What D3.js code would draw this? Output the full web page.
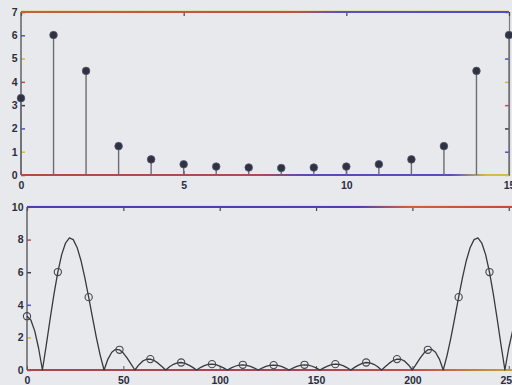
<!DOCTYPE html>
<html>
<head>
<meta charset="utf-8">
<script src="https://cdn.jsdelivr.net/npm/d3@7"></script>
<style>
  body { margin: 0; background: #e7e9ed; }
  svg { display: block; }
  text { font-family: Arial, "Liberation Sans", sans-serif; }
</style>
</head>
<body>
<div id="chart"></div>
<script>
// top panel: 16-point DFT magnitude (stems)
const stemIndex = [0, 1, 2, 3, 4, 5, 6, 7, 8, 9, 10, 11, 12, 13, 14, 15];
const stemValues = [3.30, 6.01, 4.47, 1.24, 0.67, 0.46, 0.36, 0.32, 0.30, 0.32, 0.36, 0.46, 0.67, 1.24, 4.47, 6.01];
const stemXTicks = [0, 5, 10, 15];
const stemYTicks = [0, 1, 2, 3, 4, 5, 6, 7];

// bottom panel: dense spectrum + the same samples as open circles
const curveFreq = [
  0, 2, 4, 6, 8, 10, 12, 14, 16, 18, 20, 22, 24, 26, 28, 30,
  32, 34, 36, 38, 40, 42, 44, 46, 48, 50, 52, 54, 56, 58, 60, 62,
  64, 66, 68, 70, 72, 74, 76, 78, 80, 82, 84, 86, 88, 90, 92, 94,
  96, 98, 100, 102, 104, 106, 108, 110, 112, 114, 116, 118, 120, 122, 124, 126,
  128, 130, 132, 134, 136, 138, 140, 142, 144, 146, 148, 150, 152, 154, 156, 158,
  160, 162, 164, 166, 168, 170, 172, 174, 176, 178, 180, 182, 184, 186, 188, 190,
  192, 194, 196, 198, 200, 202, 204, 206, 208, 210, 212, 214, 216, 218, 220, 222,
  224, 226, 228, 230, 232, 234, 236, 238, 240, 242, 244, 246, 248, 250, 252, 254,
  256
];
const curveValues = [
  3.30, 3.07, 2.40, 1.35, 0, 1.53, 3.13, 4.66, 6.01, 7.08, 7.79, 8.10, 8.00, 7.52, 6.72, 5.67,
  4.47, 3.21, 1.99, 0.90, 0, 0.67, 1.09, 1.27, 1.24, 1.04, 0.73, 0.36, 0, 0.31, 0.54, 0.66,
  0.67, 0.58, 0.42, 0.22, 0, 0.20, 0.35, 0.44, 0.46, 0.41, 0.30, 0.16, 0, 0.15, 0.27, 0.34,
  0.36, 0.33, 0.24, 0.13, 0, 0.13, 0.23, 0.30, 0.32, 0.29, 0.22, 0.12, 0, 0.12, 0.22, 0.28,
  0.30, 0.28, 0.22, 0.12, 0, 0.12, 0.22, 0.29, 0.32, 0.30, 0.23, 0.13, 0, 0.13, 0.24, 0.33,
  0.36, 0.34, 0.27, 0.15, 0, 0.16, 0.30, 0.41, 0.46, 0.44, 0.35, 0.20, 0, 0.22, 0.42, 0.58,
  0.67, 0.66, 0.54, 0.31, 0, 0.36, 0.73, 1.04, 1.24, 1.27, 1.09, 0.67, 0, 0.90, 1.99, 3.21,
  4.47, 5.67, 6.72, 7.52, 8.00, 8.10, 7.79, 7.08, 6.01, 4.66, 3.13, 1.53, 0, 1.35, 2.40, 3.07,
  3.30
];
const markerFreq = [0, 16, 32, 48, 64, 80, 96, 112, 128, 144, 160, 176, 192, 208, 224, 240];
const curveXTicks = [0, 50, 100, 150, 200, 250];
const curveYTicks = [0, 2, 4, 6, 8, 10];

// scanner colour fringing on the tick marks
const tickColors = ["#3c3c48", "#c84b4b", "#d9b83a", "#4a55c8"];

const width = 512, height = 385;

const svg = d3.select("#chart").append("svg")
  .attr("width", width)
  .attr("height", height);

const defs = svg.append("defs");

function gradient(id, stops) {
  const g = defs.append("linearGradient")
    .attr("id", id)
    .attr("gradientUnits", "userSpaceOnUse")
    .attr("x1", 0).attr("x2", width).attr("y1", 0).attr("y2", 0);
  stops.forEach(s => g.append("stop").attr("offset", s[0]).attr("stop-color", s[1]));
}

gradient("top1", [[0, "#c8603c"], [0.58, "#c24f4f"], [0.66, "#5e4fc2"], [1, "#4f4ad0"]]);
gradient("bot1", [[0, "#b44a3e"], [0.5, "#b04a55"], [0.6, "#5a48b8"], [0.88, "#5a4cc0"], [0.95, "#d6bc40"], [1, "#d6bc40"]]);
gradient("top2", [[0, "#4b3fb8"], [0.7, "#4e40b4"], [0.8, "#d06040"], [1, "#cc4444"]]);
gradient("bot2", [[0, "#a84848"], [0.6, "#a04858"], [0.8, "#c05040"], [1, "#c89a40"]]);

function panel(opts) {
  const { left, right, top, bottom, xDomain, yDomain, xTicks, yTicks, topGrad, botGrad } = opts;
  const x = d3.scaleLinear().domain(xDomain).range([left, right]);
  const y = d3.scaleLinear().domain(yDomain).range([bottom, top]);
  const g = svg.append("g");

  // left axis, ticks pointing inward
  const ly = g.append("g")
    .attr("transform", `translate(${left},0)`)
    .call(d3.axisLeft(y).tickValues(yTicks).tickSize(-4).tickPadding(3.5).tickFormat(d3.format("d")));
  ly.select(".domain").remove();
  ly.selectAll(".tick line").attr("stroke", (d, i) => tickColors[(i + 1) % tickColors.length]).attr("stroke-width", 1.5);
  ly.selectAll(".tick text")
    .attr("fill", "#2b2d3e").attr("font-size", 10.5).attr("font-weight", "bold");

  // right axis (no labels)
  const ry = g.append("g")
    .attr("transform", `translate(${right},0)`)
    .call(d3.axisRight(y).tickValues(yTicks).tickSize(-4).tickFormat(""));
  ry.select(".domain").attr("stroke", "#7a7a80").attr("stroke-width", 1.2);
  ry.selectAll(".tick line").attr("stroke", (d, i) => tickColors[(i + 2) % tickColors.length]).attr("stroke-width", 1.5);

  // bottom axis with labels
  const bx = g.append("g")
    .attr("transform", `translate(0,${bottom})`)
    .call(d3.axisBottom(x).tickValues(xTicks).tickSize(-4).tickPadding(6.5).tickFormat(d3.format("d")));
  bx.select(".domain").remove();
  bx.selectAll(".tick line").attr("stroke", "#555");
  bx.selectAll(".tick text")
    .attr("fill", "#2b2d3e").attr("font-size", 10.5).attr("font-weight", "bold");

  // top axis, ticks only
  const tx = g.append("g")
    .attr("transform", `translate(0,${top})`)
    .call(d3.axisTop(x).tickValues(xTicks).tickSize(-4).tickFormat(""));
  tx.select(".domain").remove();
  tx.selectAll(".tick line").attr("stroke", "#444").attr("stroke-width", 1.2);

  // frame
  g.append("line").attr("x1", left).attr("x2", left).attr("y1", top).attr("y2", bottom)
    .attr("stroke", "#5a5a62").attr("stroke-width", 1.4);
  g.append("line").attr("x1", left).attr("x2", right).attr("y1", top - 1).attr("y2", top - 1)
    .attr("stroke", "#e2c850").attr("stroke-width", 1).attr("opacity", 0.7);
  g.append("line").attr("x1", left).attr("x2", right).attr("y1", top).attr("y2", top)
    .attr("stroke", `url(#${topGrad})`).attr("stroke-width", 1.8);
  g.append("line").attr("x1", left).attr("x2", right).attr("y1", bottom).attr("y2", bottom)
    .attr("stroke", `url(#${botGrad})`).attr("stroke-width", 1.8);

  return { g, x, y };
}

// ---- top: stem plot ----
const p1 = panel({
  left: 21, right: 509, top: 12, bottom: 175,
  xDomain: [0, 15], yDomain: [0, 7],
  xTicks: stemXTicks, yTicks: stemYTicks,
  topGrad: "top1", botGrad: "bot1"
});

p1.g.selectAll(".stem")
  .data(stemIndex)
  .enter()
  .append("line")
  .attr("class", "stem")
  .attr("x1", d => p1.x(d))
  .attr("x2", d => p1.x(d))
  .attr("y1", p1.y(0))
  .attr("y2", (d, i) => p1.y(stemValues[i]))
  .attr("stroke", "#6c6c74")
  .attr("stroke-width", 1.4);

p1.g.selectAll(".dot")
  .data(stemIndex)
  .enter()
  .append("circle")
  .attr("class", "dot")
  .attr("cx", d => p1.x(d))
  .attr("cy", (d, i) => p1.y(stemValues[i]))
  .attr("r", 3.8)
  .attr("fill", "#2f3242")
  .attr("stroke", "#55586a")
  .attr("stroke-width", 0.8);

// ---- bottom: spectrum curve ----
const p2 = panel({
  left: 27, right: 27 + 256 * 1.927, top: 207, bottom: 370,
  xDomain: [0, 256], yDomain: [0, 10],
  xTicks: curveXTicks, yTicks: curveYTicks,
  topGrad: "top2", botGrad: "bot2"
});

const line = d3.line()
  .x((d, i) => p2.x(curveFreq[i]))
  .y(d => p2.y(d));

p2.g.append("path")
  .datum(curveValues)
  .attr("d", line)
  .attr("fill", "none")
  .attr("stroke", "#38383f")
  .attr("stroke-width", 1.3)
  .attr("stroke-linejoin", "round");

p2.g.selectAll(".ring")
  .data(markerFreq)
  .enter()
  .append("circle")
  .attr("class", "ring")
  .attr("cx", d => p2.x(d))
  .attr("cy", (d, i) => p2.y(stemValues[i]))
  .attr("r", 3.6)
  .attr("fill", "none")
  .attr("stroke", "#45454e")
  .attr("stroke-width", 1.1);
</script>
</body>
</html>
